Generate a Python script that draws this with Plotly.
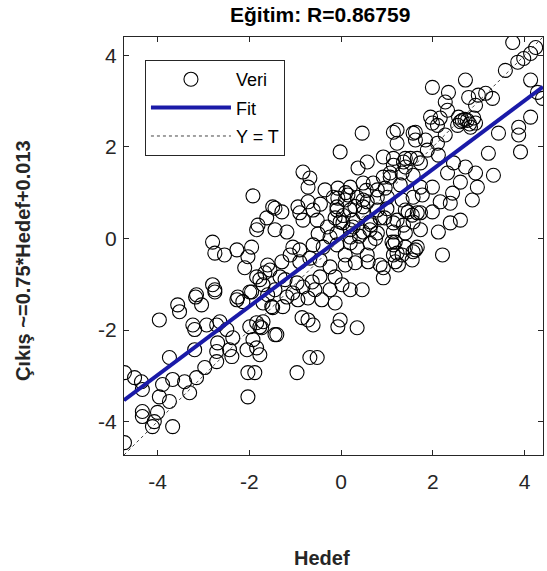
import plotly.graph_objects as go

# Target (Hedef) and network output (Çıkış) values
hedef = [
    -3.96, -3.56, -3.52, -3.17, -3.04, -2.75, -3.23, -3.19, -2.93, -2.71, -2.64, -2.27, -2.14, -1.99, -1.70, -1.49,
    -2.49, -2.36, -2.69, -2.71, -2.43, -2.38, -2.71, -3.19, -3.74, -2.97, -3.15, -3.41, -3.67, -3.89, -4.33, -4.50,
    -4.72, -4.35, -3.30, -3.74, -3.96, -4.33, -4.33, -4.00, -4.07, -4.11, -3.67, -4.72, -2.03, -1.88, -2.03, -1.99,
    -1.84, -1.77, -1.70, -1.73, -1.44, -1.92, -1.84, -1.77, -2.05,
    -1.92, -1.49, -1.62, -1.81, -1.84, -1.44, -2.80, -2.75, -2.54, -2.27, -1.95, -2.03, -2.10, -1.60, -1.55, -2.80,
    -2.75, -3.15, -1.77, -1.70, -1.95, -2.25,
    -1.05, -1.11, -0.61, -0.39, -0.09, 0.20, 0.57, 0.59, 0.92, 0.92, 1.14, 1.14, -1.66, -1.84, -1.33, -0.96, -1.05,
    -0.83, -0.63, -0.46, -0.24, -0.13, 0.02, 0.20, 0.46, -0.13, -0.42, -0.72, -0.94, -1.27, -1.51, -0.85, -0.72,
    -0.61, -0.02, -0.07, 0.35, -1.40, -0.68, -0.52, -0.96,
    -1.44, -1.22, -0.90, -0.68, -1.29, -0.90, -0.46, 0.09, -1.18, -1.60, -0.24, -0.57,
    0.46, -0.02, 0.37, 0.57, 0.92, 1.14, 1.07, -0.83, -0.68, -0.72, -0.35, -0.07, 0.20, -1.44, -1.29, -1.18, -0.94,
    -0.90, -0.72, -0.61, -0.83, -0.52, -0.17, -0.09, 0.09, 0.35, 0.57, 0.79, 0.92, 1.01, -0.13, 0.04, 0.26, 0.48,
    -0.24, 0.20, 0.63, 1.22,
    1.33, 1.57, 0.48, 0.70, 0.96, 1.29, 1.73, -0.07, 0.15, 0.48, 0.79, 1.33, 1.57, -0.09, 0.20, 0.48, 0.79, 1.46,
    1.73, -0.02, 0.26, 0.63, 0.85, 1.14, 1.57, -0.09, 0.20, 0.48, 0.79, 1.14, 1.40, 1.73, 0.35, 0.63, 1.11, 1.40,
    1.62, 0.09, 1.33, 1.55, 0.31, 0.85, 1.25,
    1.99, 1.14, 1.62, 1.62, 1.95, 1.99, 1.36, 1.51, 1.66, 1.40, 1.88, 1.73,
    3.74, 4.24, 4.13, 3.98, 3.85, 3.58, 4.13, 4.39, 4.28, 2.71, 2.34, 2.27, 2.78, 2.99, 3.15, 3.30, 2.93, 2.32,
    2.10, 2.16, 2.56, 2.64, 2.75, 2.89, 2.93, 2.54, 2.82, 4.13, 3.87, 3.87, 3.43, 3.21, 3.91, 1.57, 1.22, 1.84,
    2.10, 2.12, 2.27, 1.40, 1.14, 2.45, 2.32, 2.71, 2.93, 3.32, 1.07,
    2.60, 2.97, 2.86, 2.43, 2.38, 2.16, 1.99, 1.77, 1.99, 1.66, 1.55, 1.40, 2.60, 2.38, 2.12, 1.36, 1.22, 1.18,
    1.66, 1.57, 1.22, 2.21, 1.18,
    0.05, 0.30, 0.65, 0.95, 0.40, 0.75, -0.30, -0.50, 2.60, 2.70, 2.80, 0.10, 0.55, 1.00, -0.45,
]
cikis = [
    -1.78, -1.45, -1.60, -1.28, -1.45, -1.17, -1.89, -1.99, -1.89, -1.89, -1.82, -1.34, -1.38, -1.17, -1.41, -1.51,
    -1.99, -2.17, -2.28, -2.47, -2.43, -2.58, -2.69, -2.43, -2.60, -2.82, -3.04, -3.13, -3.08, -3.19, -3.30, -3.04,
    -2.93, -3.13, -3.37, -3.56, -3.46, -3.78, -3.89, -3.80, -4.00, -4.11, -4.11, -4.46, -2.93, -2.93, -3.46, -1.93,
    -1.84, -1.93, -1.82, -1.95, -2.10, -2.21, -2.39, -2.54, -2.43,
    0.93, 0.69, 0.45, 0.29, 0.19, 0.19, -0.08, -0.32, -0.36, -0.25, -0.19, -0.40, -0.64, -0.58, -0.69, -1.01,
    -1.12, -1.23, -0.90, -1.01, -1.17, -1.28,
    -0.19, -0.36, -0.14, -0.19, -0.14, -0.10, -0.36, -0.51, -0.64, -0.86, -0.36, -0.14, -0.75, -0.84, -0.84, -0.97,
    -1.19, -1.06, -0.95, -0.84, -0.62, -0.84, -1.01, -1.12, -1.12, -1.41, -1.34, -1.30, -1.34, -1.49, -1.49, -1.73,
    -1.78, -1.89, -1.78, -1.93, -1.95, -2.10, -2.60, -2.60, -2.93,
    -1.12, -0.90, -0.51, -0.43, -0.51, -0.25, -0.47, -0.58, -1.28, -1.23, -1.12, -1.12,
    2.30, 1.89, 1.54, 1.67, 1.78, 1.60, 1.43, 1.45, 1.32, 1.12, 1.06, 1.10, 1.12, 0.66, 0.58, 0.14, 0.69,
    0.56, 0.80, 0.62, 0.40, 0.40, 0.90, 0.69, 0.84, 0.90, 0.80, 1.06, 1.34, 0.90, 0.45, 0.34, 0.25, 0.56,
    0.03, 0.03, 0.19, 2.08,
    1.43, 1.38, 1.21, 1.21, 1.10, 1.17, 1.12, 0.88, 0.95, 0.84, 0.90, 0.84, 0.90, 0.62, 0.62, 0.69, 0.62, 0.58,
    0.56, 0.36, 0.40, 0.36, 0.45, 0.34, 0.36, 0.12, 0.19, 0.14, 0.12, 0.14, 0.12, 0.19, -0.19, -0.10, -0.08, -0.19,
    -0.25, -0.36, -0.36, -0.47, -0.53, -0.58, -0.58,
    3.30, 2.32, 2.32, 2.15, 2.65, 2.52, 1.67, 1.75, 1.75, 1.56, 1.93, 1.65,
    4.28, 4.17, 4.04, 3.93, 3.85, 3.67, 3.46, 3.06, 3.19, 3.46, 3.19, 2.98, 3.08, 3.13, 3.17, 3.06, 2.91, 2.80,
    2.47, 2.63, 2.65, 2.58, 2.58, 2.63, 2.52, 2.47, 2.43, 2.65, 2.43, 2.26, 2.30, 1.86, 1.89, 2.30, 2.37, 2.15,
    2.08, 1.82, 2.26, 1.75, 1.75, 1.65, 1.43, 1.56, 1.43, 1.38, 1.34,
    1.23, 1.12, 0.84, 0.99, 0.77, 0.80, 1.12, 0.95, 0.58, 0.56, 0.51, 0.62, 0.40, 0.34, 0.14, 0.29, 0.40, -0.08,
    -0.19, -0.29, -0.32, -0.36, -0.51,
    0.50, 0.70, 0.30, 0.45, 0.05, 0.00, 0.25, 0.10, 2.55, 2.60, 2.50, 1.00, 1.05, 0.65, 0.75,
]

fit_slope = 0.75
fit_intercept = 0.013
r_value = "0.86759"
axis_min = -4.73
axis_max = 4.40
tick_vals = [-4, -2, 0, 2, 4]
tick_text = ["-4", "-2", "0", "2", "4"]

fit_x = [axis_min, axis_max]
fit_y = [fit_slope * v + fit_intercept for v in fit_x]

font_fam = "Arial, 'Liberation Sans', Helvetica, sans-serif"
ink = "#262626"

fig = go.Figure()
fig.add_trace(go.Scatter(
    x=hedef, y=cikis, mode="markers", name="Veri", legendgroup="a",
    marker=dict(symbol="circle-open", size=14, color="black", line=dict(width=1.1, color="black")),
))
fig.add_trace(go.Scatter(
    x=fit_x, y=fit_y, mode="lines", name="Fit", legendgroup="b",
    line=dict(color="#1a1aa8", width=4),
))
fig.add_trace(go.Scatter(
    x=fit_x, y=fit_x, mode="lines", name="Y = T", legendgroup="c",
    line=dict(color="#444444", width=1, dash="dot"),
))

axis_common = dict(
    tickmode="array", tickvals=tick_vals, ticktext=tick_text,
    ticks="inside", ticklen=5, tickwidth=1, tickcolor=ink,
    showline=True, linecolor=ink, linewidth=1, mirror="ticks",
    showgrid=False, zeroline=False,
    tickfont=dict(family=font_fam, size=21, color=ink),
)

fig.update_layout(
    width=547, height=571,
    margin=dict(l=124, r=4, t=37, b=116),
    paper_bgcolor="white", plot_bgcolor="white",
    showlegend=True,
    legend=dict(
        x=0.05, y=0.945, xanchor="left", yanchor="top",
        bgcolor="white", bordercolor=ink, borderwidth=1,
        font=dict(family=font_fam, size=18, color="black"),
        tracegroupgap=2, itemwidth=80,
    ),
    xaxis=dict(range=[axis_min, axis_max], ticklabelstandoff=8, **axis_common),
    yaxis=dict(range=[axis_min, axis_max], ticklabelstandoff=2, **axis_common),
    annotations=[
        dict(text="<b>Eğitim: R=" + r_value + "</b>", xref="paper", yref="paper",
             x=0.468, y=1.0535, xanchor="center", yanchor="middle", showarrow=False,
             font=dict(family=font_fam, size=21, color="black")),
        dict(text="<b>Hedef</b>", xref="paper", yref="paper",
             x=0.472, y=-0.246, xanchor="center", yanchor="middle", showarrow=False,
             font=dict(family=font_fam, size=20, color=ink)),
        dict(text="<b>Çıkış ~=0.75*Hedef+0.013</b>", xref="paper", yref="paper",
             x=-0.241, y=0.464, xanchor="center", yanchor="middle", showarrow=False,
             textangle=-90,
             font=dict(family=font_fam, size=20, color=ink)),
    ],
)

fig.write_html("out.html", config={"displayModeBar": False},
               post_script="document.body.style.margin='0';")
